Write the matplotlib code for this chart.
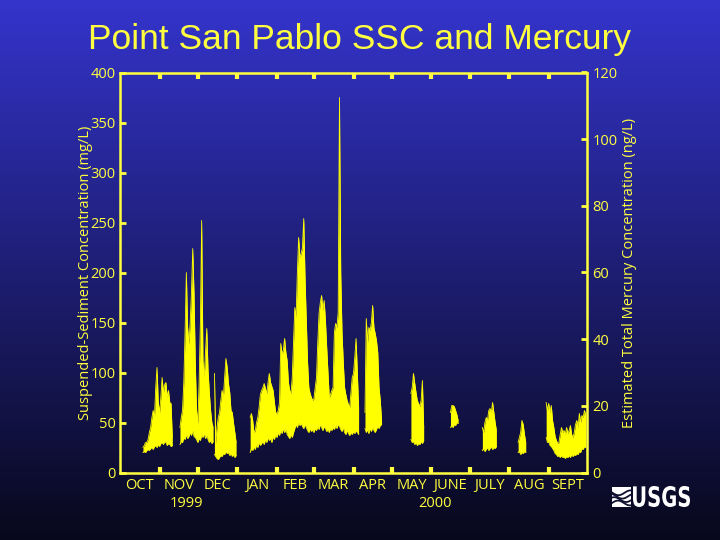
import numpy as np
import matplotlib
matplotlib.use("Agg")
import matplotlib.pyplot as plt
from matplotlib.patches import Rectangle, PathPatch
from matplotlib.textpath import TextPath
from matplotlib.font_manager import FontProperties
from matplotlib.transforms import Affine2D, IdentityTransform

# ---------------- data (day index counted from 1 Oct 1999) ----------------
months = ["OCT", "NOV", "DEC", "JAN", "FEB", "MAR", "APR", "MAY", "JUNE", "JULY", "AUG", "SEPT"]
month_starts = [0, 31, 61, 92, 123, 152, 183, 213, 244, 274, 305, 336, 366]
years = ["1999", "2000"]
year_pos = [52, 247]

ssc_ticks = [0, 50, 100, 150, 200, 250, 300, 350, 400]
hg_ticks = [0, 20, 40, 60, 80, 100, 120]

# Suspended-sediment concentration (mg/L): daily upper / lower envelope per record segment
seg1_start = 18
seg1_hi = [25, 27, 30, 30, 33, 40, 45, 55, 62, 55, 85, 105, 70, 60, 75, 95, 80, 88, 90, 75, 82, 70, 69, 35]
seg1_lo = [20, 21, 20, 22, 23, 22, 24, 25, 23, 26, 27, 25, 28, 26, 29, 30, 28, 31, 30, 27, 29, 28, 26, 27]

seg2_start = 47
seg2_hi = [45, 55, 62, 90, 140, 200, 145, 128, 150, 180, 224, 179, 110, 62, 49, 90, 150, 252, 112, 95, 120, 144, 102, 80, 62, 50, 45]
seg2_lo = [28, 31, 30, 35, 33, 38, 34, 36, 40, 37, 42, 36, 35, 33, 30, 34, 32, 38, 35, 39, 34, 37, 33, 30, 32, 29, 31]

seg3_start = 74
seg3_hi = [99, 29, 45, 55, 60, 72, 82, 75, 95, 114, 105, 89, 80, 62, 60, 49, 40, 30]
seg3_lo = [18, 16, 14, 13, 15, 17, 16, 19, 18, 21, 19, 20, 17, 19, 16, 18, 15, 17]

seg4_start = 102
seg4_hi = [55, 59, 52, 40, 42, 50, 55, 65, 78, 82, 85, 89, 84, 79, 90, 99, 90, 86, 82, 70,
           60, 59, 62, 70, 129, 119, 122, 134, 120, 112, 90, 82, 79, 95, 130, 165, 155, 200, 235, 215,
           219, 225, 254, 195, 152, 110, 85, 79, 75, 72, 74, 85, 95, 130, 159, 170, 177, 162, 172, 152,
           125, 100, 75, 78, 82, 85, 140, 149, 145, 160, 375, 199, 140, 110, 85, 78, 72, 68, 65, 80,
           95, 99, 115, 134, 100, 65]
seg4_lo = [20, 24, 22, 26, 23, 28, 25, 30, 27, 29, 31, 28, 33, 30, 35, 32, 34, 30, 36, 33,
           38, 35, 40, 37, 42, 39, 44, 40, 43, 38, 36, 34, 38, 35, 40, 44, 48, 45, 50, 47,
           49, 46, 44, 48, 45, 42, 40, 44, 41, 43, 40, 44, 42, 46, 43, 48, 45, 42, 46, 44,
           41, 43, 40, 44, 42, 45, 43, 47, 44, 48, 46, 43, 41, 45, 40, 38, 42, 39, 37, 40,
           38, 41, 39, 42, 40, 38]

seg5_start = 192
seg5_hi = [60, 154, 130, 145, 142, 150, 167, 145, 139, 132, 120, 85, 72, 52]
seg5_lo = [44, 40, 43, 39, 44, 41, 45, 42, 40, 43, 46, 44, 47, 48]

seg6_start = 228
seg6_hi = [79, 85, 99, 89, 80, 72, 69, 66, 72, 92, 45]
seg6_lo = [33, 30, 31, 28, 30, 27, 29, 28, 31, 29, 32]

seg7_start = 259
seg7_hi = [60, 67, 67, 66, 62, 58, 52]
seg7_lo = [45, 47, 45, 48, 47, 50, 49]

seg8_start = 284
seg8_hi = [45, 40, 50, 55, 52, 62, 64, 60, 70, 60, 50, 42]
seg8_lo = [22, 24, 21, 23, 25, 22, 24, 26, 23, 25, 24, 26]

seg9_start = 312
seg9_hi = [30, 35, 40, 52, 48, 38, 30]
seg9_lo = [20, 21, 18, 20, 19, 21, 20]

seg10_start = 334
seg10_hi = [70, 62, 69, 60, 67, 52, 45, 36, 32, 29, 30, 38, 45, 40, 42, 38, 45, 39, 42, 47,
            38, 35, 40, 48, 52, 45, 59, 50, 57, 55, 62, 58]
seg10_lo = [35, 30, 31, 27, 26, 24, 22, 19, 18, 16, 17, 15, 17, 15, 16, 14, 16, 15, 17, 15,
            18, 16, 18, 17, 19, 18, 21, 20, 24, 23, 26, 25]

segments = [
    (seg1_start, seg1_hi, seg1_lo), (seg2_start, seg2_hi, seg2_lo), (seg3_start, seg3_hi, seg3_lo),
    (seg4_start, seg4_hi, seg4_lo), (seg5_start, seg5_hi, seg5_lo), (seg6_start, seg6_hi, seg6_lo),
    (seg7_start, seg7_hi, seg7_lo), (seg8_start, seg8_hi, seg8_lo), (seg9_start, seg9_hi, seg9_lo),
    (seg10_start, seg10_hi, seg10_lo),
]

# ---------------- styling ----------------
YEL = "#ffff40"
DATA = "#ffff00"
FONT = "Open Sans"
FS = 10.5

fig = plt.figure(figsize=(7.2, 5.4), dpi=100)

# gradient background
bg = fig.add_axes([0, 0, 1, 1], zorder=-10)
top = np.array([52, 52, 204]) / 255.0
bot = np.array([8, 8, 28]) / 255.0
t = np.linspace(0, 1, 256)[:, None]
grad = top[None, :] * (1 - t) + bot[None, :] * t
bg.imshow(grad[:, None, :], aspect="auto", extent=[0, 1, 0, 1], origin="upper")
bg.set_axis_off()

ax = fig.add_axes([120 / 720, 1 - 472.5 / 540, 467 / 720, 400 / 540])
ax.patch.set_alpha(0)

for start, hi, lo in segments:
    d = np.arange(start, start + len(hi))
    ax.fill_between(d, lo, hi, color=DATA, lw=0)
    ax.plot(d, hi, color=DATA, lw=0.6)
    ax.plot(d, lo, color=DATA, lw=0.6)

ax.set_xlim(month_starts[0], month_starts[-1])
ax.set_ylim(0, 400)

for s in ax.spines.values():
    s.set_color(YEL)
    s.set_linewidth(1.8)

ax.set_yticks(ssc_ticks)
ax.set_yticklabels([str(v) for v in ssc_ticks], color=YEL, fontsize=FS, family=FONT)
ax.tick_params(axis="y", direction="in", length=4, width=2, color=YEL, pad=3)

ax.set_xticks(month_starts[1:-1])
ax.set_xticklabels([])
ax.tick_params(axis="x", which="major", direction="in", length=4, width=3, color=YEL,
               top=True, bottom=True)
mids = [(a + b) / 2 for a, b in zip(month_starts[:-1], month_starts[1:])]
ax.set_xticks(mids, minor=True)
ax.set_xticklabels(months, minor=True, color=YEL, fontsize=FS, family=FONT)
ax.tick_params(axis="x", which="minor", length=0, pad=4)

for lab, xp in zip(years, year_pos):
    ax.text(xp, -0.058, lab, transform=ax.get_xaxis_transform(), ha="center", va="top",
            color=YEL, fontsize=FS, family=FONT)

ax.set_ylabel("Suspended-Sediment Concentration (mg/L)", color=YEL, fontsize=FS, family=FONT)
ax.yaxis.set_label_coords(-0.058, 0.5)

ax2 = ax.twinx()
ax2.set_ylim(0, 120)
ax2.set_yticks(hg_ticks)
ax2.set_yticklabels([str(v) for v in hg_ticks], color=YEL, fontsize=FS, family=FONT)
ax2.tick_params(axis="y", direction="in", length=4, width=2, color=YEL, pad=4)
for s in ax2.spines.values():
    s.set_visible(False)
ax2.set_ylabel("Estimated Total Mercury Concentration (ng/L)", color=YEL, fontsize=FS,
               family=FONT, labelpad=3)

fig.text(0.5, 1 - 40 / 540, "Point San Pablo SSC and Mercury", ha="center", va="center",
         color=YEL, fontsize=25.5, family="Liberation Sans")

# USGS mark
logo = fig.add_axes([612 / 720, 1 - 507 / 540, 19 / 720, 20 / 540])
logo.add_patch(Rectangle((0, 0), 1, 1, color="white"))
xs = np.linspace(0, 1, 50)
for k in range(4):
    logo.plot(xs, 0.2 + 0.17 * k + 0.12 * np.sin(xs * 5 + k), color="#101030", lw=1.3)
logo.set_xlim(0, 1)
logo.set_ylim(0, 1)
logo.set_axis_off()

tp = TextPath((0, 0), "USGS", size=10,
              prop=FontProperties(family="Liberation Sans Narrow", weight="bold"))
ext = tp.get_extents()
sx = 57 / ext.width
sy = 21 / ext.height
tr = Affine2D().translate(-ext.x0, -ext.y0).scale(sx, sy).translate(633, 540 - 507)
fig.add_artist(PathPatch(tr.transform_path(tp), facecolor="white", edgecolor="none",
                         transform=IdentityTransform()))

fig.savefig("out.png", dpi=100)
